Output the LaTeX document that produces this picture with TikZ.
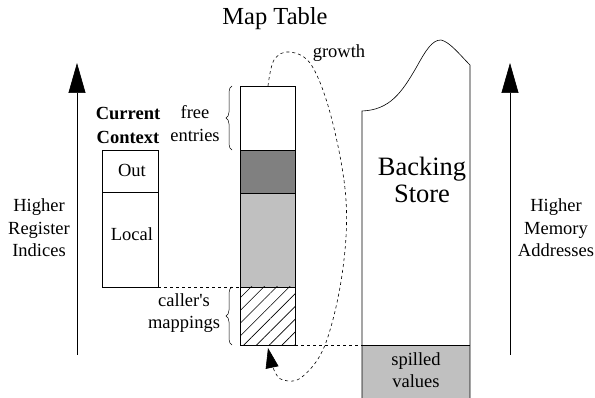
\documentclass[tikz,border=0pt]{standalone}
\usepackage{fontspec}
\setmainfont{Liberation Serif}
\usetikzlibrary{arrows.meta,patterns.meta,decorations.pathreplacing}
\definecolor{darkfill}{HTML}{808080}
\definecolor{lightfill}{HTML}{C0C0C0}
\begin{document}
\begin{tikzpicture}[x=1pt,y=-1pt,
  lbl/.style={font=\fontsize{18.5}{22.5}\selectfont,align=center,inner sep=0pt},
  axis/.style={line width=0.6pt,-{Triangle[length=30pt,width=17pt]}},
  cell/.style={draw,line width=0.6pt},
  bracestyle/.style={decorate,decoration={brace,amplitude=6pt},line width=0.5pt},
  link/.style={dashed,line width=0.6pt}]
\useasboundingbox (0,0) rectangle (595,398);

% title and direction axes
\node[font=\fontsize{24.5}{28}\selectfont,inner sep=0pt] (title) at (275,19) {Map Table};
\coordinate (lbot) at (77,355); \coordinate (ltop) at (77,63);
\draw[axis] (lbot) -- (ltop);
\node[lbl] (regs) at (39,228) {Higher\\Register\\Indices};
\coordinate (rbot) at (510,355); \coordinate (rtop) at (510,63);
\draw[axis] (rbot) -- (rtop);
\node[lbl] (mem) at (556,228) {Higher\\Memory\\Addresses};

% current register window
\node[lbl,font=\fontsize{18.5}{24}\selectfont\bfseries] (ctx) at (128,125) {Current\\Context};
\draw[cell] (102,150) rectangle (158,192);
\draw[cell] (102,192) rectangle (158,287);
\node[lbl] (out) at (132,170) {Out};
\node[lbl] (local) at (132,234) {Local};

% map table column
\draw[cell,fill=white] (240,86) rectangle (295,150);
\draw[cell,fill=darkfill] (240,150) rectangle (295,193);
\draw[cell,fill=lightfill] (240,193) rectangle (295,287);
\draw[cell,pattern={Lines[angle=45,distance=9pt,line width=0.6pt]}] (240,287) rectangle (295,345);

\draw[bracestyle] (232,150) -- (232,86);
\node[lbl,font=\fontsize{18.5}{23}\selectfont] (free) at (195,124) {free\\entries};
\draw[bracestyle] (232,345) -- (232,287);
\node[lbl] (caller) at (184,313) {caller\textquotesingle s\\mappings};

% backing store
\fill[lightfill] (362,345) rectangle (470,398);
\draw[line width=0.6pt] (362,398) -- (362,111)
  .. controls (390,110) and (402,92) .. (416,68)
  .. controls (426,50) and (432,40) .. (441,40)
  .. controls (450,42) and (460,55) .. (470,65) -- (470,398);
\draw[line width=0.6pt] (362,345) -- (470,345);
\node[font=\fontsize{26.5}{27}\selectfont,align=center,inner sep=0pt] (bs) at (422,180) {Backing\\Store};
\node[lbl] (spill) at (416,370) {spilled\\values};

% dashed alignment lines
\draw[link] (158,287) -- (240,287);
\draw[link] (295,345) -- (362,345);

% growth loop
\node[lbl] (growth) at (339,53) {growth};
\draw[link,-{Triangle[length=20pt,width=13pt]}] plot[smooth,tension=0.6] coordinates
  {(268,86) (274,60) (290,52) (312,66) (332,120) (346,200) (342,275) (325,345) (302,377) (283,380) (274,370) (268,348)};
\end{tikzpicture}
\end{document}
